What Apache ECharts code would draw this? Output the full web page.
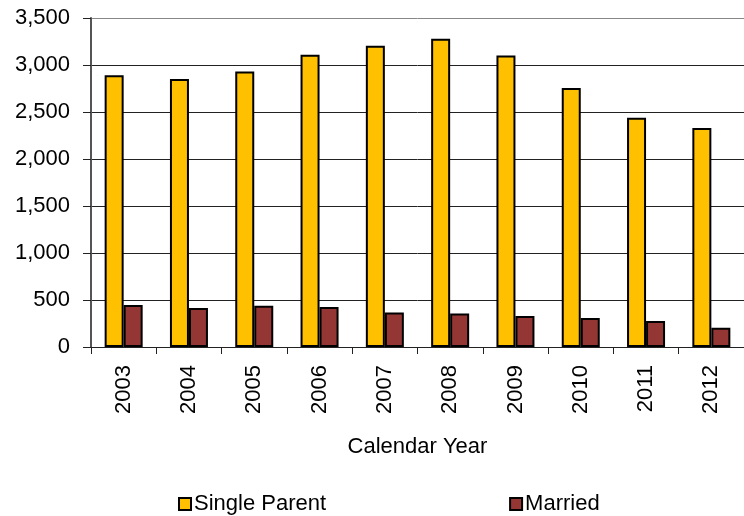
<!DOCTYPE html>
<html>
<head>
<meta charset="utf-8">
<script src="https://cdn.jsdelivr.net/npm/echarts@6/dist/echarts.min.js"></script>
<style>
  html, body { margin: 0; padding: 0; background: #fff; }
  #main { width: 744px; height: 516px; }
</style>
</head>
<body>
<div id="main"></div>
<script>
var years = ['2003', '2004', '2005', '2006', '2007', '2008', '2009', '2010', '2011', '2012'];
var singleParent = [2890, 2850, 2930, 3110, 3205, 3280, 3100, 2755, 2440, 2330];
var married = [448, 415, 440, 425, 368, 357, 330, 309, 277, 205];

var chartDom = document.getElementById('main');
var myChart = echarts.init(chartDom);
var font = 'Liberation Sans, Arial, sans-serif';

var option = {
    animation: false,
    backgroundColor: '#fff',
    textStyle: { fontFamily: font },
    grid: {
        left: 91,
        top: 18,
        width: 660,
        height: 329
    },
    legend: {
        data: ['Single Parent', 'Married'],
        left: 173,
        top: 488,
        icon: 'rect',
        itemWidth: 12,
        itemHeight: 12,
        itemGap: 183,
        itemStyle: { borderColor: '#000', borderWidth: 2 },
        textStyle: { fontSize: 22, color: '#000', fontFamily: font, padding: [0, 0, 0, -2] }
    },
    xAxis: {
        type: 'category',
        data: years,
        name: 'Calendar Year',
        nameLocation: 'middle',
        nameGap: 89,
        nameTextStyle: { fontSize: 22, color: '#000', fontFamily: font },
        axisLine: { lineStyle: { color: '#222', width: 1 } },
        axisTick: { show: true, length: 7, lineStyle: { color: '#222' } },
        axisLabel: {
            rotate: 90,
            margin: 18,
            fontSize: 22,
            color: '#000',
            fontFamily: font
        }
    },
    yAxis: {
        type: 'value',
        min: 0,
        max: 3500,
        interval: 500,
        axisLine: { show: true, lineStyle: { color: '#555', width: 2 } },
        axisTick: { show: true, length: 8, lineStyle: { color: '#222' } },
        axisLabel: {
            margin: 21,
            fontSize: 22,
            color: '#000',
            fontFamily: font,
            formatter: function (v) { return v.toLocaleString('en-US'); }
        },
        splitLine: {
            lineStyle: {
                color: ['#222', '#222', '#222', '#222', '#222', '#222', '#222', '#888'],
                width: [1]
            }
        }
    },
    series: [
        {
            name: 'Single Parent',
            type: 'bar',
            data: singleParent,
            barWidth: 19,
            barGap: '0%',
            itemStyle: { color: '#FFC000', borderColor: '#000', borderWidth: 2 }
        },
        {
            name: 'Married',
            type: 'bar',
            data: married,
            barWidth: 19,
            itemStyle: { color: '#943634', borderColor: '#000', borderWidth: 2 }
        }
    ]
};

option && myChart.setOption(option);
</script>
</body>
</html>
